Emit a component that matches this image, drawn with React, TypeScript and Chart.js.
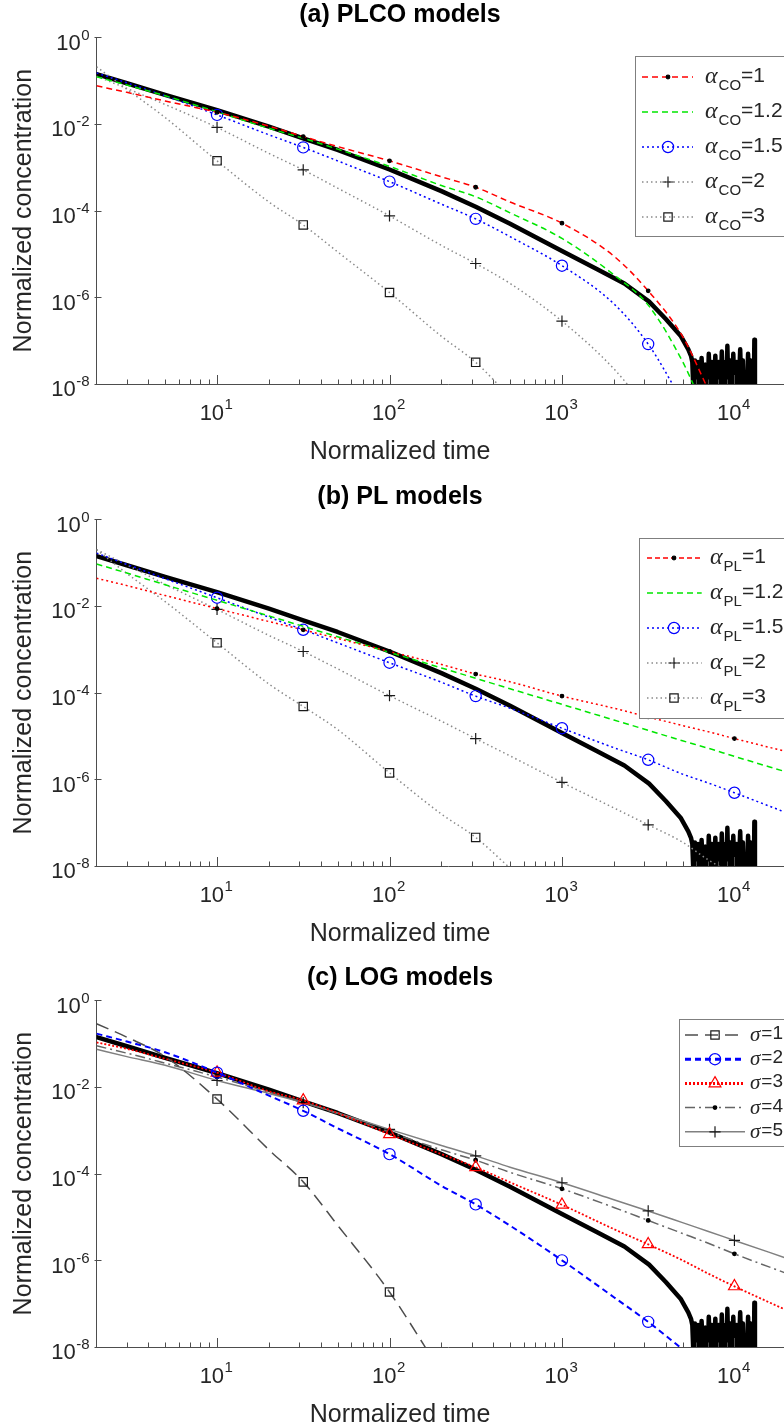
import React, { useEffect, useRef } from 'react';
import { Chart, registerables } from 'chart.js';

Chart.register(...registerables);

const FONT = '"Liberation Sans", Arial, sans-serif';
const SERIF = '"Liberation Serif", "Times New Roman", serif';
const TEXT = '#262626';
const AXIS = '#4d4d4d';

// ---------- data ----------
const TIME = [2, 3, 5, 10, 20, 31.6, 50, 100, 200, 316, 500, 1000, 2000, 3162, 5000, 7000, 10000, 20000];
const MARK_TIMES = [10, 31.6, 100, 316, 1000, 3162, 10000];

const MEAS_TIME = [
  2, 3, 5, 10, 20, 31.6, 50, 100, 200, 316, 500, 1000, 1600, 2300, 3200, 4000, 4900, 5400, 5600,
  5700, 5800, 5900, 6000, 6150, 6300, 6450, 6600, 6800, 7000, 7100, 7250, 7400, 7550, 7750, 7900,
  8100, 8300, 8450, 8650, 8850, 9000, 9100, 9250, 9450, 9650, 9850, 10050, 10300, 10550, 10800,
  11000, 11200, 11300, 11500, 11800, 12000, 12200, 12400, 12600, 12800, 12950, 13050, 13150,
];
const MEAS_CONC = [
  1.41e-1, 8.71e-2, 4.68e-2, 2.09e-2, 8.71e-3, 4.68e-3, 2.51e-3, 8.91e-4, 2.82e-4, 1.23e-4, 5.01e-5,
  1.17e-5, 4.47e-6, 2.09e-6, 7.94e-7, 3.16e-7, 1.26e-7, 6.31e-8, 4.47e-8,
  3.2e-8, 5e-9, 3.5e-8, 5e-9, 3.2e-8, 5e-9, 4e-8, 5e-9, 2.8e-8, 5e-9, 5e-8, 5e-9, 3.2e-8, 5e-9, 4.5e-8, 5e-9,
  3.2e-8, 5e-9, 5.6e-8, 5e-9, 3.2e-8, 5e-9, 7.6e-8, 5e-9, 3.5e-8, 5e-9, 5e-8, 5e-9, 3.2e-8, 5e-9, 6.3e-8,
  5e-9, 3.5e-8, 5e-9, null, 5e-9, 5e-8, 5e-9, 3.5e-8, 5e-9, null, 5e-9, 1.05e-7, 5e-9,
];

// (a) PLCO models
const CO_1 = [7.59e-2, 5.37e-2, 3.39e-2, 1.86e-2, 8.91e-3, 5.13e-3, 3.02e-3, 1.41e-3, 6.03e-4, 3.47e-4, 1.58e-4, 5.13e-5, 8.91e-6, 1.41e-6, 1.26e-7, 7.94e-9, null, null];
const CO_12 = [1.23e-1, 7.94e-2, 4.47e-2, 1.91e-2, 7.94e-3, 4.68e-3, 2.63e-3, 1.05e-3, 3.80e-4, 2.09e-4, 8.91e-5, 2.29e-5, 3.31e-6, 6.61e-7, 3.31e-8, 1.70e-9, null, null];
const CO_15 = [1.51e-1, 8.91e-2, 4.47e-2, 1.62e-2, 5.62e-3, 2.88e-3, 1.41e-3, 4.68e-4, 1.41e-4, 6.46e-5, 2.51e-5, 5.37e-6, 7.08e-7, 8.32e-8, 3.98e-9, null, null, null];
const CO_2 = [1.26e-1, 6.61e-2, 2.82e-2, 8.32e-3, 2.09e-3, 8.71e-4, 3.31e-4, 7.59e-5, 1.58e-5, 6.03e-6, 2.09e-6, 2.82e-7, 2.24e-8, 2.51e-9, null, null, null, null];
const CO_3 = [2.09e-1, 6.31e-2, 1.41e-2, 1.41e-3, 1.58e-4, 4.68e-5, 1.12e-5, 1.29e-6, 1.26e-7, 3.16e-8, 5.01e-9, null, null, null, null, null, null, null];

// (b) PL models
const PL_1 = [4.37e-2, 2.95e-2, 1.74e-2, 8.71e-3, 4.37e-3, 2.82e-3, 1.78e-3, 8.91e-4, 4.47e-4, 2.69e-4, 1.78e-4, 8.32e-5, 4.37e-5, 2.75e-5, 1.74e-5, 1.26e-5, 8.71e-6, 4.37e-6];
const PL_12 = [9.33e-2, 5.75e-2, 3.09e-2, 1.35e-2, 5.89e-3, 3.39e-3, 1.95e-3, 8.51e-4, 3.72e-4, 2.14e-4, 1.23e-4, 5.37e-5, 2.34e-5, 1.35e-5, 7.76e-6, 5.25e-6, 3.39e-6, 1.48e-6];
const PL_15 = [1.66e-1, 9.12e-2, 4.27e-2, 1.55e-2, 5.50e-3, 2.82e-3, 1.41e-3, 4.90e-4, 1.74e-4, 8.32e-5, 4.37e-5, 1.51e-5, 5.37e-6, 2.82e-6, 1.32e-6, 8.32e-7, 4.90e-7, 1.70e-7];
const PL_2 = [2.00e-1, 8.91e-2, 3.16e-2, 8.32e-3, 2.09e-3, 8.91e-4, 3.55e-4, 8.51e-5, 2.19e-5, 8.71e-6, 3.47e-6, 8.51e-7, 2.19e-7, 8.91e-8, 3.55e-8, 1.41e-8, 6.31e-9, null];
const PL_3 = [2.00e-1, 5.62e-2, 1.26e-2, 1.41e-3, 1.58e-4, 4.79e-5, 1.41e-5, 1.41e-6, 1.58e-7, 4.57e-8, 8.91e-9, null, null, null, null, null, null, null];

// (c) LOG models
const SIG_1 = [2.88e-1, 1.41e-1, 5.01e-2, 5.25e-3, 3.55e-4, 6.46e-5, 6.46e-6, 1.86e-7, 2.51e-9, null, null, null, null, null, null, null, null, null];
const SIG_2 = [1.70e-1, 1.12e-1, 6.31e-2, 2.14e-2, 6.31e-3, 2.82e-3, 1.12e-3, 2.82e-4, 5.25e-5, 1.95e-5, 6.31e-6, 1.00e-6, 1.41e-7, 3.80e-8, 8.91e-9, null, null, null];
const SIG_3 = [1.07e-1, 7.59e-2, 4.47e-2, 2.14e-2, 7.94e-3, 4.90e-3, 2.51e-3, 8.13e-4, 2.82e-4, 1.41e-4, 6.31e-5, 1.91e-5, 5.25e-6, 2.34e-6, 1.00e-6, 5.01e-7, 2.51e-7, 7.08e-8];
const SIG_4 = [8.91e-2, 6.03e-2, 3.55e-2, 1.70e-2, 7.59e-3, 4.47e-3, 2.40e-3, 9.12e-4, 3.55e-4, 2.04e-4, 1.07e-4, 4.47e-5, 1.66e-5, 8.32e-6, 4.17e-6, 2.51e-6, 1.41e-6, 5.01e-7];
const SIG_5 = [7.41e-2, 5.01e-2, 3.16e-2, 1.41e-2, 7.08e-3, 4.37e-3, 2.51e-3, 1.05e-3, 4.47e-4, 2.57e-4, 1.41e-4, 6.17e-5, 2.51e-5, 1.38e-5, 7.41e-6, 4.68e-6, 2.88e-6, 1.12e-6];

const X_TICKS = [10, 100, 1000, 10000];
const X_TICK_EXP = ['1', '2', '3', '4'];
const X_MINOR = [3, 4, 5, 6, 7, 8, 9, 20, 30, 40, 50, 60, 70, 80, 90, 200, 300, 400, 500, 600, 700, 800, 900, 2000, 3000, 4000, 5000, 6000, 7000, 8000, 9000, 20000];
const Y_TICKS = [1, 1e-2, 1e-4, 1e-6, 1e-8];
const Y_TICK_EXP = ['0', '-2', '-4', '-6', '-8'];

const ALPHA_LABELS = ['1', '1.2', '1.5', '2', '3'];
const SIGMA_LABELS = ['1', '2', '3', '4', '5'];

// ---------- styles ----------
const DOT = { style: 'circle', r: 1.8, stroke: '#000', fill: '#000' };
const CIRC = { style: 'circle', r: 5.6, stroke: '#0000ff', fill: 'rgba(0,0,0,0)' };
const PLUS = { style: 'cross', r: 5.6, stroke: '#1a1a1a', fill: 'rgba(0,0,0,0)' };
const SQR = { style: 'rect', r: 5.9, stroke: '#1a1a1a', fill: 'rgba(0,0,0,0)' };
const TRI = { style: 'triangle', r: 6.8, stroke: '#ff0000', fill: 'rgba(0,0,0,0)' };

const GRAYDOT = '#8a8a8a';

const PANELS = [
  {
    title: '(a) PLCO models', top: 0, sym: 'α', sub: 'CO', labels: ALPHA_LABELS,
    series: [
      { values: CO_1, color: '#ff0000', width: 1.5, dash: [6, 4], marker: DOT },
      { values: CO_12, color: '#00e600', width: 1.5, dash: [6, 4], marker: null },
      { values: CO_15, color: '#0000ff', width: 1.5, dash: [2, 3], marker: CIRC },
      { values: CO_2, color: GRAYDOT, width: 1.5, dash: [1.5, 3], marker: PLUS },
      { values: CO_3, color: GRAYDOT, width: 1.5, dash: [1.5, 3], marker: SQR },
    ],
    legend: { x: 635, y: 56, h: 180, rowH: 35, first: 21, sx0: 642, sx1: 693, mx: 668, tx: 705,
      symFont: `italic 24px ${SERIF}`, subFont: `15px ${FONT}`, restFont: `21px ${FONT}`, symDy: 6, subDy: 13, restDy: 5 },
  },
  {
    title: '(b) PL models', top: 482, sym: 'α', sub: 'PL', labels: ALPHA_LABELS,
    series: [
      { values: PL_1, color: '#ff0000', width: 1.5, dash: [2, 3], marker: DOT, legendDash: [5, 3] },
      { values: PL_12, color: '#00e600', width: 1.5, dash: [6, 4], marker: null },
      { values: PL_15, color: '#0000ff', width: 1.5, dash: [2, 3], marker: CIRC },
      { values: PL_2, color: GRAYDOT, width: 1.5, dash: [1.5, 3], marker: PLUS },
      { values: PL_3, color: GRAYDOT, width: 1.5, dash: [1.5, 3], marker: SQR },
    ],
    legend: { x: 639.3, y: 56.3, h: 180, rowH: 35, first: 19.7, sx0: 647, sx1: 701.7, mx: 674, tx: 710,
      symFont: `italic 24px ${SERIF}`, subFont: `15px ${FONT}`, restFont: `21px ${FONT}`, symDy: 6, subDy: 13, restDy: 5 },
  },
  {
    title: '(c) LOG models', top: 963, sym: 'σ', sub: '', labels: SIGMA_LABELS,
    series: [
      { values: SIG_1, color: '#4d4d4d', width: 1.5, dash: [13, 7], marker: SQR },
      { values: SIG_2, color: '#0000ff', width: 2, dash: [6, 4], marker: CIRC, legendWidth: 3 },
      { values: SIG_3, color: '#ff0000', width: 1.8, dash: [2, 2], marker: TRI, legendWidth: 3 },
      { values: SIG_4, color: '#666666', width: 1.5, dash: [10, 4, 2, 4], marker: DOT },
      { values: SIG_5, color: '#808080', width: 1.5, dash: [], marker: PLUS },
    ],
    legend: { x: 679.3, y: 56.3, h: 127.4, rowH: 24.2, first: 15.7, sx0: 685, sx1: 745, mx: 715, tx: 750,
      symFont: `italic 21px ${SERIF}`, subFont: `14px ${FONT}`, restFont: `19px ${FONT}`, symDy: 6, subDy: 10, restDy: 4 },
  },
];

// ---------- drawing helpers ----------
function drawMarker(ctx: CanvasRenderingContext2D, m: any, x: number, y: number) {
  ctx.save();
  ctx.setLineDash([]);
  ctx.strokeStyle = m.stroke;
  ctx.fillStyle = m.fill;
  ctx.lineWidth = 1.2;
  const r = m.r;
  ctx.beginPath();
  if (m.style === 'circle') {
    ctx.arc(x, y, r, 0, Math.PI * 2);
    ctx.fill();
    ctx.stroke();
  } else if (m.style === 'cross') {
    ctx.moveTo(x - r, y); ctx.lineTo(x + r, y);
    ctx.moveTo(x, y - r); ctx.lineTo(x, y + r);
    ctx.stroke();
  } else if (m.style === 'rect') {
    const s = Math.SQRT1_2 * r;
    ctx.rect(x - s, y - s, 2 * s, 2 * s);
    ctx.stroke();
  } else if (m.style === 'triangle') {
    let a = 0;
    ctx.moveTo(x + Math.sin(a) * r, y - Math.cos(a) * r);
    a += (2 * Math.PI) / 3;
    ctx.lineTo(x + Math.sin(a) * r, y - Math.cos(a) * r);
    a += (2 * Math.PI) / 3;
    ctx.lineTo(x + Math.sin(a) * r, y - Math.cos(a) * r);
    ctx.closePath();
    ctx.stroke();
  }
  ctx.restore();
}

const decorPlugin = {
  id: 'decor',
  afterDraw(chart: any, _args: any, opts: any) {
    const p = opts.panel;
    if (!p) return;
    const { ctx, chartArea: ca } = chart;
    const xs = chart.scales.x;
    const ys = chart.scales.y;
    ctx.save();
    ctx.strokeStyle = AXIS;
    ctx.lineWidth = 1;
    ctx.setLineDash([]);
    // x ticks (inward)
    ctx.beginPath();
    X_MINOR.forEach((v) => {
      const px = Math.round(xs.getPixelForValue(v)) + 0.5;
      ctx.moveTo(px, ca.bottom); ctx.lineTo(px, ca.bottom - 4.5);
    });
    X_TICKS.forEach((v) => {
      const px = Math.round(xs.getPixelForValue(v)) + 0.5;
      ctx.moveTo(px, ca.bottom); ctx.lineTo(px, ca.bottom - 9);
    });
    Y_TICKS.forEach((v) => {
      const py = Math.round(ys.getPixelForValue(v)) + 0.5;
      ctx.moveTo(ca.left - 2, py); ctx.lineTo(ca.left + 5, py);
    });
    ctx.stroke();

    // tick labels
    ctx.fillStyle = TEXT;
    ctx.textBaseline = 'alphabetic';
    const base = `22px ${FONT}`;
    const sup = `15px ${FONT}`;
    X_TICKS.forEach((v, i) => {
      const px = xs.getPixelForValue(v);
      ctx.font = base;
      const w1 = ctx.measureText('10').width;
      ctx.font = sup;
      const w2 = ctx.measureText(X_TICK_EXP[i]).width;
      const x0 = px - (w1 + w2) / 2 - 1;
      ctx.textAlign = 'left';
      ctx.font = base;
      ctx.fillText('10', x0, ca.bottom + 36);
      ctx.font = sup;
      ctx.fillText(X_TICK_EXP[i], x0 + w1 + 0.5, ca.bottom + 24.5);
    });
    Y_TICKS.forEach((v, i) => {
      const py = ys.getPixelForValue(v);
      const right = ca.left - 7;
      ctx.textAlign = 'right';
      ctx.font = sup;
      const w2 = ctx.measureText(Y_TICK_EXP[i]).width;
      ctx.fillText(Y_TICK_EXP[i], right, py + 2.4);
      ctx.font = base;
      ctx.fillText('10', right - w2 - 0.5, py + 12.4);
    });

    // legend
    const L = p.legend;
    ctx.fillStyle = '#ffffff';
    ctx.fillRect(L.x, L.y, 220, L.h);
    ctx.strokeStyle = '#7f7f7f';
    ctx.lineWidth = 1;
    ctx.strokeRect(Math.round(L.x) + 0.5, Math.round(L.y) + 0.5, 220, Math.round(L.h));
    p.series.forEach((s: any, i: number) => {
      const cy = L.y + L.first + i * L.rowH;
      ctx.save();
      ctx.strokeStyle = s.color;
      ctx.lineWidth = s.legendWidth || s.width;
      ctx.setLineDash(s.legendDash || s.dash);
      ctx.beginPath();
      ctx.moveTo(L.sx0, cy);
      ctx.lineTo(L.sx1, cy);
      ctx.stroke();
      ctx.restore();
      if (s.marker) drawMarker(ctx, s.marker, L.mx, cy);
      ctx.fillStyle = TEXT;
      ctx.textAlign = 'left';
      let tx = L.tx;
      ctx.font = L.symFont;
      ctx.fillText(p.sym, tx, cy + L.symDy);
      tx += ctx.measureText(p.sym).width + 1;
      if (p.sub) {
        ctx.font = L.subFont;
        ctx.fillText(p.sub, tx, cy + L.subDy);
        tx += ctx.measureText(p.sub).width;
      }
      ctx.font = L.restFont;
      ctx.fillText('=' + p.labels[i], tx, cy + L.restDy);
    });
    ctx.restore();
  },
};

function buildConfig(p: any) {
  const datasets: any[] = p.series.map((s: any, i: number) => ({
    label: p.sym + (p.sub || '') + '=' + p.labels[i],
    data: TIME.map((t, k) => ({ x: t, y: s.values[k] })),
    borderColor: s.color,
    borderWidth: s.width,
    borderDash: s.dash,
    fill: false,
    cubicInterpolationMode: 'monotone',
    spanGaps: false,
    clip: 0,
    pointStyle: s.marker ? s.marker.style : 'circle',
    pointRadius: (c: any) => (s.marker && c.raw && MARK_TIMES.includes(c.raw.x) ? s.marker.r : 0),
    pointHoverRadius: 0,
    pointBorderColor: s.marker ? s.marker.stroke : s.color,
    pointBackgroundColor: s.marker ? s.marker.fill : s.color,
    pointBorderWidth: 1.2,
  }));
  datasets.push({
    label: 'Measured',
    data: MEAS_TIME.map((t, k) => ({ x: t, y: MEAS_CONC[k] })),
    borderColor: '#000000',
    borderWidth: 4.5,
    borderJoinStyle: 'round',
    borderCapStyle: 'round',
    fill: false,
    tension: 0,
    spanGaps: false,
    clip: 0,
    pointRadius: 0,
    pointHoverRadius: 0,
  });
  return {
    type: 'line',
    data: { datasets },
    options: {
      responsive: false,
      animation: false,
      devicePixelRatio: 1,
      events: [],
      layout: { padding: { left: 0, right: 0, top: 0, bottom: 3 } },
      scales: {
        x: {
          type: 'logarithmic',
          min: 2,
          max: 24000,
          grid: { display: false },
          border: { display: true, color: AXIS, width: 1 },
          ticks: { display: false },
          afterFit: (sc: any) => { sc.height = 53; },
        },
        y: {
          type: 'logarithmic',
          min: 1e-8,
          max: 1,
          grid: { display: false },
          border: { display: true, color: AXIS, width: 1 },
          ticks: { display: false },
          title: {
            display: true,
            text: 'Normalized concentration',
            color: TEXT,
            font: { family: FONT, size: 25 },
            padding: { top: 9, bottom: 0 },
          },
          afterFit: (sc: any) => { sc.width = 96.5; },
        },
      },
      plugins: {
        legend: { display: false },
        tooltip: { enabled: false },
        title: {
          display: true,
          text: p.title,
          color: '#000000',
          font: { family: FONT, size: 25, weight: 'bold' },
          padding: { top: 0, bottom: 7.3 },
        },
        subtitle: {
          display: true,
          position: 'bottom',
          text: 'Normalized time',
          color: TEXT,
          font: { family: FONT, size: 25 },
          padding: { top: 0, bottom: 0 },
        },
        decor: { panel: p },
      },
    },
    plugins: [decorPlugin],
  };
}

function Panel({ p }: { p: any }) {
  const ref = useRef<HTMLCanvasElement | null>(null);
  useEffect(() => {
    if (!ref.current) return;
    const chart = new Chart(ref.current, buildConfig(p) as any);
    return () => chart.destroy();
  }, [p]);
  return (
    <canvas
      ref={ref}
      width={800}
      height={470}
      style={{ position: 'absolute', left: 0, top: p.top, width: 800, height: 470 }}
    />
  );
}

export default function App() {
  return (
    <div style={{ position: 'absolute', left: 0, top: 0, width: 784, height: 1423, overflow: 'hidden', background: '#ffffff' }}>
      {PANELS.map((p, i) => (
        <Panel key={i} p={p} />
      ))}
    </div>
  );
}
